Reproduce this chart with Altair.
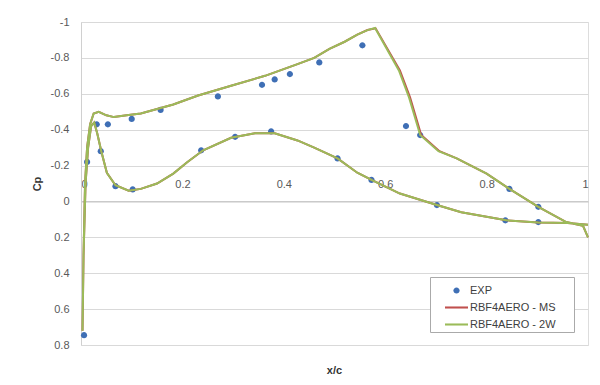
import altair as alt
import pandas as pd

# ---------------- data ----------------
series_names = ["EXP", "RBF4AERO - MS", "RBF4AERO - 2W"]
series_colors = ["#3f6fb5", "#C0504D", "#9BBB59"]

exp_x = [0.006, 0.012, 0.031, 0.039, 0.053, 0.068, 0.100, 0.102, 0.157, 0.237,
         0.270, 0.304, 0.357, 0.375, 0.382, 0.412, 0.470, 0.506, 0.555, 0.573,
         0.641, 0.669, 0.702, 0.837, 0.845, 0.902, 0.902]
exp_cp = [0.745, -0.22, -0.43, -0.28, -0.43, -0.085, -0.46, -0.067, -0.51, -0.285,
          -0.585, -0.36, -0.65, -0.39, -0.68, -0.71, -0.775, -0.24, -0.87, -0.12,
          -0.42, -0.37, 0.02, 0.105, -0.07, 0.03, 0.115]

# RBF4AERO - 2W : upper side from trailing edge to leading edge, then lower side
w2_x = [1.000, 0.990, 0.957, 0.902, 0.845, 0.800, 0.741, 0.705, 0.669, 0.647,
        0.627, 0.580, 0.565, 0.545, 0.520, 0.490, 0.460, 0.427, 0.363, 0.296,
        0.231, 0.182, 0.118, 0.090, 0.065, 0.050, 0.035, 0.025, 0.018, 0.012,
        0.008, 0.005, 0.003, 0.005, 0.009, 0.014, 0.020, 0.026, 0.032, 0.040,
        0.051, 0.068, 0.094, 0.118, 0.150, 0.182, 0.210, 0.241, 0.296, 0.343,
        0.382, 0.427, 0.460, 0.506, 0.545, 0.575, 0.629, 0.702, 0.750, 0.800,
        0.839, 0.902, 0.960, 1.000]
w2_cp = [0.20, 0.135, 0.115, 0.03, -0.07, -0.155, -0.24, -0.28, -0.37, -0.58,
         -0.73, -0.967, -0.955, -0.93, -0.89, -0.85, -0.80, -0.765, -0.70, -0.645,
         -0.59, -0.54, -0.49, -0.48, -0.47, -0.48, -0.50, -0.49, -0.43, -0.30,
         -0.10, 0.30, 0.72, 0.30, -0.10, -0.30, -0.42, -0.44, -0.38, -0.28,
         -0.16, -0.09, -0.06, -0.07, -0.10, -0.155, -0.22, -0.285, -0.355, -0.38,
         -0.38, -0.34, -0.30, -0.24, -0.16, -0.117, -0.044, 0.02, 0.06, 0.085,
         0.105, 0.117, 0.12, 0.13]

# RBF4AERO - MS : nearly identical, shock very slightly downstream
ms_x = [1.000, 0.990, 0.957, 0.902, 0.845, 0.800, 0.741, 0.707, 0.671, 0.649,
        0.629, 0.581, 0.565, 0.545, 0.520, 0.490, 0.460, 0.427, 0.363, 0.296,
        0.231, 0.182, 0.118, 0.090, 0.065, 0.050, 0.035, 0.025, 0.018, 0.012,
        0.008, 0.005, 0.003, 0.005, 0.009, 0.014, 0.020, 0.026, 0.032, 0.040,
        0.051, 0.068, 0.094, 0.118, 0.150, 0.182, 0.210, 0.241, 0.296, 0.343,
        0.382, 0.427, 0.460, 0.506, 0.545, 0.575, 0.629, 0.702, 0.750, 0.800,
        0.839, 0.902, 0.960, 1.000]
ms_cp = [0.20, 0.135, 0.115, 0.03, -0.07, -0.155, -0.24, -0.28, -0.37, -0.58,
         -0.73, -0.965, -0.955, -0.93, -0.89, -0.85, -0.80, -0.765, -0.70, -0.645,
         -0.59, -0.54, -0.49, -0.48, -0.47, -0.48, -0.50, -0.49, -0.43, -0.30,
         -0.10, 0.30, 0.72, 0.30, -0.10, -0.30, -0.42, -0.44, -0.38, -0.28,
         -0.16, -0.09, -0.06, -0.07, -0.10, -0.155, -0.22, -0.285, -0.355, -0.38,
         -0.38, -0.34, -0.30, -0.24, -0.16, -0.117, -0.044, 0.02, 0.06, 0.085,
         0.105, 0.117, 0.12, 0.13]

x_ticks = [0, 0.2, 0.4, 0.6, 0.8, 1]
y_ticks = [-1, -0.8, -0.6, -0.4, -0.2, 0, 0.2, 0.4, 0.6, 0.8]

# ---------------- tables ----------------
lines_df = pd.concat([
    pd.DataFrame({"x": ms_x, "cp": ms_cp, "series": series_names[1],
                  "ord": range(len(ms_x))}),
    pd.DataFrame({"x": w2_x, "cp": w2_cp, "series": series_names[2],
                  "ord": range(len(w2_x))}),
])
exp_df = pd.DataFrame({"x": exp_x, "cp": exp_cp, "series": series_names[0]})

FONT = "Liberation Sans"
circle_path = "M0.27,0A0.27,0.27,0,1,1,-0.27,0A0.27,0.27,0,1,1,0.27,0Z"
bar_path = "M-1,-0.09H1V0.09H-1Z"

color_scale = alt.Scale(domain=series_names, range=series_colors)
shape_scale = alt.Scale(domain=series_names, range=[circle_path, bar_path, bar_path])

x_scale = alt.Scale(domain=[0, 1], nice=False, zero=False)
y_scale = alt.Scale(domain=[-1, 0.8], nice=False, zero=False, reverse=True)

PLOT_W, PLOT_H = 507, 323

x_axis = alt.Axis(orient="top", offset=-PLOT_H / 1.8, values=x_ticks,
                  labelExpr="'' + datum.value", grid=False, ticks=False,
                  domain=True, domainColor="#bfbfbf", labelPadding=12,
                  labelOverlap=False, labelFont=FONT, labelFontSize=11,
                  labelColor="#595959", title=None)
y_axis = alt.Axis(orient="left", values=y_ticks, tickCount=10,
                  labelExpr="'' + datum.value",
                  grid=True, gridColor="#d9d9d9", ticks=False, domain=True,
                  domainColor="#d0d0d0", labelPadding=12, labelOverlap=False,
                  labelFont=FONT, labelFontSize=11, labelColor="#595959",
                  title="Cp", titleFont=FONT, titleFontSize=11,
                  titleFontWeight="bold", titleColor="#333333", titlePadding=8)

legend = alt.Legend(title=None, orient="none", legendX=349, legendY=255,
                    symbolSize=529, symbolStrokeWidth=0, labelFont=FONT,
                    labelFontSize=11, labelColor="#404040", strokeColor="#aaaaaa",
                    fillColor="white", padding=2, symbolOffset=13, labelOffset=2,
                    rowPadding=0,
                    labelExpr="datum.label + '\u2800\u2800'")

lines = alt.Chart(lines_df).mark_line(strokeWidth=2).encode(
    x=alt.X("x:Q", scale=x_scale, axis=x_axis),
    y=alt.Y("cp:Q", scale=y_scale, axis=y_axis),
    color=alt.Color("series:N", scale=color_scale, legend=legend),
    order="ord:Q",
)

points = alt.Chart(exp_df).mark_point(filled=True, size=529, opacity=1).encode(
    x=alt.X("x:Q", scale=x_scale, axis=x_axis),
    y=alt.Y("cp:Q", scale=y_scale, axis=y_axis),
    color=alt.Color("series:N", scale=color_scale, legend=legend),
    shape=alt.Shape("series:N", scale=shape_scale, legend=legend),
)

chart = alt.layer(points, lines).properties(
    width=PLOT_W, height=PLOT_H,
    autosize=alt.AutoSizeParams(type="none"),
    padding={"left": 73, "top": 14, "right": 4, "bottom": 32},
    title=alt.TitleParams("x/c", orient="bottom", anchor="middle", offset=15,
                          font=FONT, fontSize=11, fontWeight="bold",
                          color="#333333"),
).configure_view(stroke=None).configure(background="white")

chart.save("out.html", embed_options={"renderer": "svg", "actions": False})
